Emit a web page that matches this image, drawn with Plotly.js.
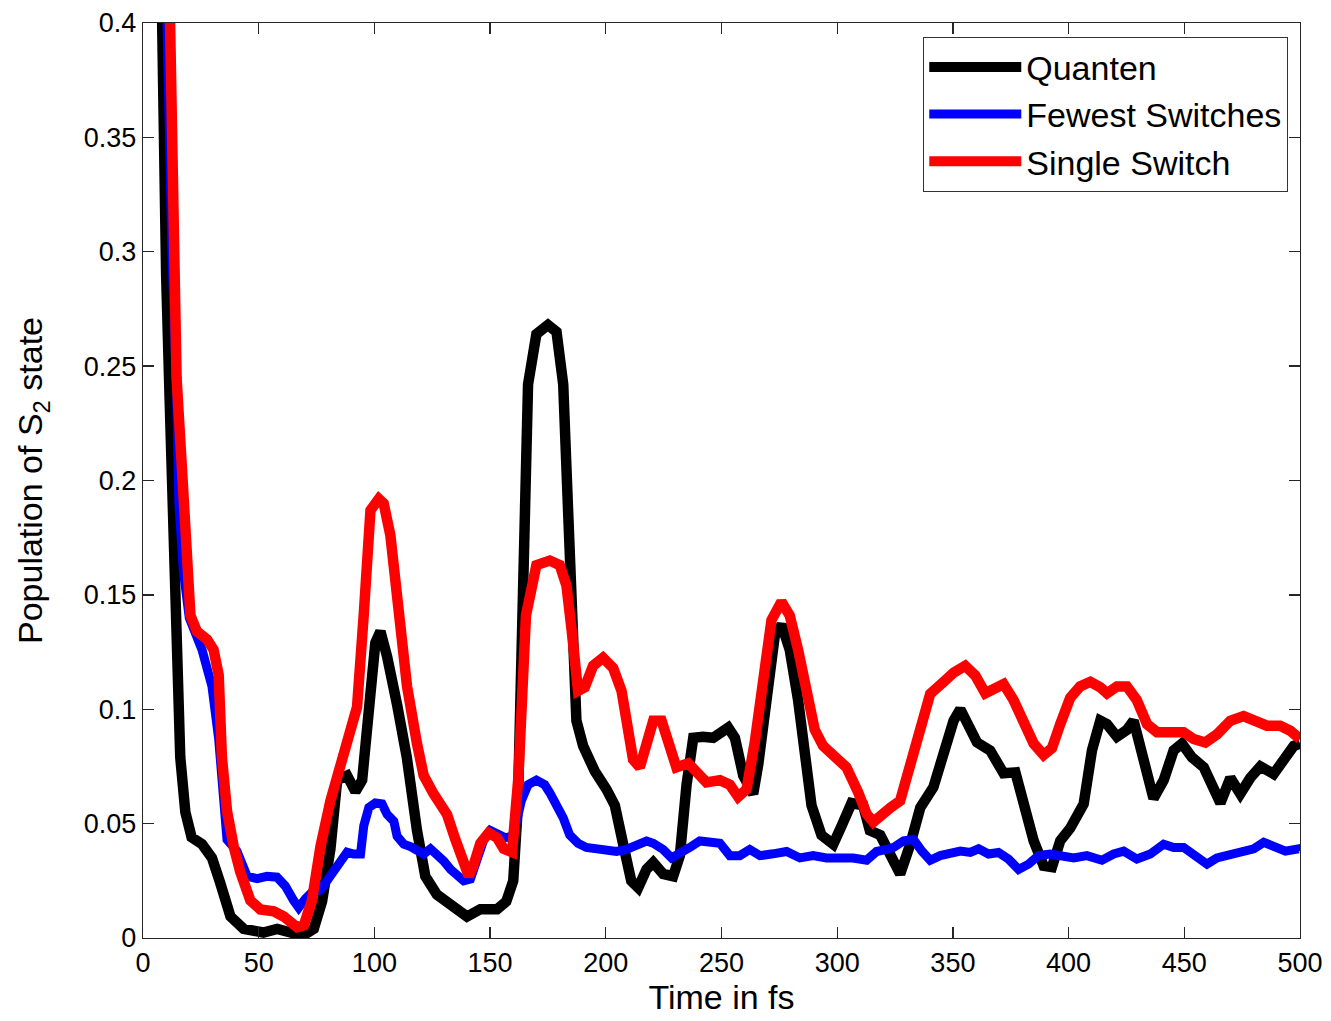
<!DOCTYPE html>
<html>
<head>
<meta charset="utf-8">
<script src="https://cdn.plot.ly/plotly-3.0.1.min.js"></script>
<style>html,body{margin:0;padding:0;background:#fff;}#plot{width:1331px;height:1021px;}</style>
</head>
<body>
<div id="plot"></div>
<script>
// Quanten (black)
var quantenT = [7.5,8.8,10,11.5,13.3,14.7,16.1,18.3,21,25.5,29.8,33.4,37.8,43.5,52,58,63.7,69,73.8,77.4,81,83.9,88.2,91.8,94.7,97.6,100.4,102.6,105.5,109.8,114,118.4,122,127,132.9,138.6,140,145.8,153,157,160,162,164.3,166.4,170,175,178.7,181.6,183.7,185.2,187.3,190.2,195.2,200.3,203.9,207.5,211,214,217.6,220.5,224.8,229.1,232,234.9,237.8,242,246.4,252.9,255.8,259.4,263.7,265.9,269.5,273,276,279.5,283.1,286,288.9,293.2,298.3,301.9,306.2,311.2,314.1,318.6,322.9,327.2,331.6,335.9,341.6,346,350.3,353.2,356.8,360.4,366.1,371.9,377,380.5,384.9,389.2,392.8,396.4,400.7,406.5,410.1,413.7,416.6,420.9,425.2,428.1,432.4,436.7,441.1,445.4,449,453.3,458.4,462.7,465.6,469.9,474.2,478.5,482.9,488.6,493,497.3,500];
var quantenY = [0.45,0.35,0.29,0.236,0.157,0.118,0.079,0.055,0.044,0.041,0.035,0.024,0.0094,0.004,0.0024,0.004,0.002,0.001,0.004,0.016,0.039,0.069,0.071,0.064,0.069,0.097,0.129,0.134,0.123,0.102,0.079,0.047,0.027,0.019,0.014,0.010,0.0094,0.0126,0.0126,0.016,0.025,0.058,0.150,0.242,0.264,0.268,0.265,0.242,0.187,0.132,0.095,0.084,0.073,0.065,0.058,0.041,0.025,0.022,0.030,0.033,0.028,0.027,0.036,0.067,0.0875,0.088,0.0875,0.092,0.0875,0.071,0.063,0.076,0.108,0.132,0.137,0.126,0.104,0.076,0.058,0.045,0.041,0.049,0.059,0.058,0.047,0.045,0.037,0.028,0.041,0.057,0.066,0.079,0.095,0.100,0.0935,0.0855,0.082,0.072,0.0724,0.057,0.0425,0.0316,0.031,0.0425,0.048,0.0586,0.082,0.095,0.0935,0.088,0.091,0.095,0.076,0.061,0.069,0.082,0.085,0.079,0.0746,0.064,0.059,0.070,0.063,0.070,0.075,0.0717,0.079,0.084,0.085];

// Fewest Switches (blue)
var fewestT = [9.3,10.3,11,12.5,14.5,15.5,17.5,20,25.5,29.8,32.7,34,36.3,40.6,45,49.3,53.6,57.9,61.5,65.1,67.3,70.2,73,76.7,80.3,83.9,88.2,91,94,95.4,97.6,100.4,103.3,105.5,108.4,109.8,112.7,115.6,118.4,121.3,124.2,127,130,132.9,135.7,138.6,141.5,144.4,147.3,150.1,153,156.6,159.5,161,163.5,166.4,170,173.6,175.8,178.7,181.6,184.4,188,191.6,196,200.3,204.6,208.9,213.3,217.6,220.5,224.8,228.4,232,236.3,240.6,245,249.3,253.6,257.9,262.2,266.6,272.3,278.1,283.9,289.6,295.4,301.2,306.9,312.7,317,321.3,324.4,328.7,333,336.6,340.2,344.5,348.8,353.2,357.5,361.1,365.4,369.7,374,378.4,382.7,387,392,397.1,402.2,407.9,414.4,419.5,423.8,429.5,435.3,441.1,445.4,449.7,454.8,459.8,464.1,469.9,475.6,480,484.3,488.6,493.7,499.4,500];
var fewestY = [0.45,0.4,0.35,0.3,0.24,0.19,0.16,0.14,0.126,0.110,0.087,0.066,0.043,0.038,0.027,0.026,0.027,0.0266,0.0227,0.0164,0.0133,0.0172,0.020,0.021,0.026,0.030,0.0375,0.0367,0.0367,0.049,0.057,0.059,0.0586,0.054,0.051,0.0445,0.041,0.040,0.038,0.0367,0.039,0.0367,0.0336,0.030,0.027,0.025,0.0258,0.035,0.043,0.047,0.046,0.0438,0.0445,0.049,0.060,0.067,0.069,0.067,0.0635,0.058,0.0525,0.045,0.0414,0.0396,0.0387,0.0378,0.0378,0.0387,0.0405,0.0424,0.0414,0.0387,0.035,0.0368,0.0396,0.0424,0.0414,0.0414,0.036,0.036,0.0387,0.036,0.0368,0.0378,0.035,0.036,0.035,0.035,0.035,0.034,0.0378,0.0387,0.0396,0.0425,0.043,0.038,0.034,0.036,0.0367,0.038,0.0374,0.039,0.0367,0.0374,0.0345,0.030,0.0323,0.036,0.0367,0.036,0.035,0.036,0.034,0.0367,0.038,0.0345,0.0367,0.041,0.0396,0.0396,0.036,0.0323,0.035,0.0367,0.0374,0.039,0.0418,0.040,0.038,0.039,0.038];

// Single Switch (red)
var singleT = [10.8,11.7,12.5,13.4,14.5,16.9,18.3,20.5,23.3,27.7,30.5,32.7,34.1,36.3,39.2,42,46.4,50.7,56.5,60.8,66.6,69.5,73,76.7,81,85.3,89.6,92.5,95.4,98.3,101.9,104,106.9,109.8,114.1,118.4,121.3,125.6,131.4,135,138.6,140.8,142.9,145.8,149.4,153,155.9,159.5,162.2,165.5,170,175.8,180.1,183,185.2,188,190.9,194.5,198.8,203.2,206.8,209.7,211.8,214.7,217.6,220.5,224.1,227,230.5,235.6,239.2,243.5,249.3,253.6,257.2,260.8,264.4,268,271.6,275.9,279.5,283.1,286.7,290.3,293.9,298.3,304,309.1,312.7,315.6,319.9,323,327.2,331.6,335.9,340.2,346,350.3,355.3,359.7,364,367.6,371.9,376.2,380.5,384.9,389.2,392.8,396.4,400.7,405,409.4,413.7,416.6,420.9,425.2,429.5,433.9,438.2,445.4,449.7,454,459.1,464.1,469.9,475.6,480,485.7,491.4,495.8,500];
var singleY = [0.45,0.4,0.35,0.293,0.245,0.204,0.173,0.141,0.134,0.1305,0.126,0.115,0.079,0.0555,0.040,0.029,0.0164,0.0125,0.0117,0.0094,0.0047,0.0055,0.0164,0.040,0.060,0.076,0.0914,0.101,0.1415,0.187,0.192,0.190,0.176,0.149,0.110,0.085,0.071,0.063,0.054,0.043,0.032,0.027,0.032,0.0414,0.046,0.0438,0.039,0.0375,0.07,0.141,0.163,0.165,0.163,0.154,0.135,0.108,0.1096,0.119,0.1225,0.118,0.108,0.093,0.078,0.0746,0.0857,0.095,0.095,0.084,0.0746,0.0764,0.0728,0.068,0.069,0.067,0.0617,0.065,0.0857,0.113,0.139,0.147,0.141,0.126,0.108,0.091,0.084,0.080,0.0746,0.0636,0.0543,0.0507,0.055,0.057,0.060,0.0746,0.092,0.1067,0.112,0.116,0.119,0.1147,0.107,0.109,0.111,0.104,0.0935,0.085,0.080,0.083,0.0935,0.105,0.110,0.112,0.1096,0.107,0.110,0.110,0.104,0.0935,0.090,0.0906,0.090,0.087,0.0855,0.089,0.095,0.097,0.095,0.0928,0.0928,0.0906,0.087];

var seriesNames = ["Quanten", "Fewest Switches", "Single Switch"];
var xTickVals = [0,50,100,150,200,250,300,350,400,450,500];
var xTickText = ["0","50","100","150","200","250","300","350","400","450","500"];
var yTickVals = [0,0.05,0.1,0.15,0.2,0.25,0.3,0.35,0.4];
var yTickText = ["0","0.05","0.1","0.15","0.2","0.25","0.3","0.35","0.4"];

var FONT = "Liberation Sans, Arial, Helvetica, sans-serif";

var traces = [
  {x: quantenT, y: quantenY, name: seriesNames[0], mode: "lines", line: {color: "#000000", width: 10.5}},
  {x: fewestT, y: fewestY, name: seriesNames[1], mode: "lines", line: {color: "#0000ff", width: 9}},
  {x: singleT, y: singleY, name: seriesNames[2], mode: "lines", line: {color: "#ff0000", width: 10.5}}
];

var axisCommon = {
  showgrid: false, zeroline: false, showline: true, mirror: "ticks",
  linecolor: "#262626", linewidth: 1.3, ticks: "inside", ticklen: 11, tickwidth: 1.3, tickcolor: "#262626",
  tickfont: {family: FONT, size: 27, color: "#000"}
};

var layout = {
  width: 1331, height: 1021,
  margin: {l: 143, r: 31, t: 23, b: 83},
  paper_bgcolor: "#ffffff", plot_bgcolor: "#ffffff",
  showlegend: true,
  font: {family: FONT, color: "#000"},
  xaxis: Object.assign({}, axisCommon, {
    range: [0, 500], tickmode: "array", tickvals: xTickVals, ticktext: xTickText,
    title: {text: "Time in fs", font: {family: FONT, size: 34, color: "#000"}, standoff: 2}
  }),
  yaxis: Object.assign({}, axisCommon, {
    range: [0, 0.4], tickmode: "array", tickvals: yTickVals, ticktext: yTickText,
    title: {text: "Population of S<sub>2</sub> state", font: {family: FONT, size: 34, color: "#000"}, standoff: 30}
  }),
  legend: {
    x: 0.9896, y: 0.9847, xanchor: "right", yanchor: "top",
    bgcolor: "#ffffff", bordercolor: "#333333", borderwidth: 1.3,
    font: {family: FONT, size: 34, color: "#000"},
    itemwidth: 92, tracegroupgap: 0
  }
};

Plotly.newPlot("plot", traces, layout, {staticPlot: true, displayModeBar: false});
</script>
</body>
</html>
